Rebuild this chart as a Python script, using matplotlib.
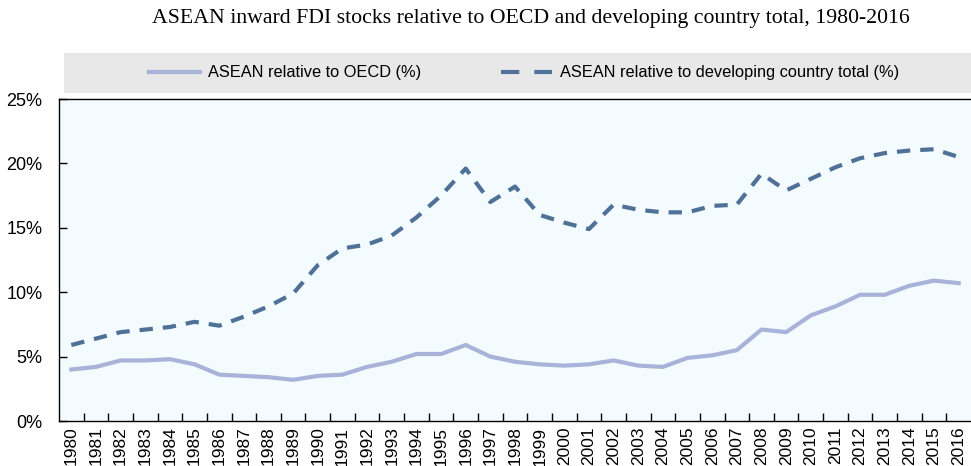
import matplotlib
matplotlib.use("Agg")
import matplotlib.pyplot as plt
from matplotlib.ticker import FixedLocator, PercentFormatter
from matplotlib.lines import Line2D

years = [str(y) for y in range(1980, 2017)]
oecd = [4.0, 4.2, 4.7, 4.7, 4.8, 4.4, 3.6, 3.5, 3.4, 3.2, 3.5, 3.6, 4.2, 4.6, 5.2, 5.2,
        5.9, 5.0, 4.6, 4.4, 4.3, 4.4, 4.7, 4.3, 4.2, 4.9, 5.1, 5.5, 7.1, 6.9, 8.2, 8.9,
        9.8, 9.8, 10.5, 10.9, 10.7]
developing = [5.9, 6.4, 6.9, 7.1, 7.3, 7.7, 7.4, 8.1, 8.9, 9.9, 12.1, 13.4, 13.7, 14.4,
              15.8, 17.5, 19.6, 17.0, 18.2, 16.0, 15.4, 14.9, 16.8, 16.4, 16.2, 16.2,
              16.7, 16.8, 19.2, 17.9, 18.8, 19.7, 20.4, 20.8, 21.0, 21.1, 20.5]
yticks = [0, 5, 10, 15, 20, 25]
title = "ASEAN inward FDI stocks relative to OECD and developing country total, 1980-2016"
label_oecd = "ASEAN relative to OECD (%)"
label_dev = "ASEAN relative to developing country total (%)"

sans = ["Liberation Sans Narrow", "Liberation Sans", "DejaVu Sans"]
plt.rcParams['font.family'] = sans

fig = plt.figure(figsize=(9.71, 4.66), dpi=100)
ax = fig.add_axes([59/971, 1-421/466, 1-59/971, (421-99)/466])
ax.set_facecolor("#f3fbfe")

x = list(range(len(years)))
c_oecd = "#a9b3d9"
c_dev = "#4f7097"
ax.plot(x, oecd, color=c_oecd, lw=3)
ax.plot(x, developing, color=c_dev, lw=3, dashes=(3.2, 2.4))

ax.set_xlim(-0.5, len(years) - 0.5)
ax.set_ylim(0, 25)
ax.set_xticks(x)
ax.set_xticklabels(years, rotation=90, fontsize=12.5)
ax.tick_params(axis='x', which='major', length=0, pad=4)
ax.xaxis.set_minor_locator(FixedLocator([i + 0.5 for i in range(len(years) - 1)]))
ax.tick_params(axis='x', which='minor', direction='in', length=6, width=1)
ax.set_yticks(yticks)
ax.yaxis.set_major_formatter(PercentFormatter(decimals=0))
ax.tick_params(axis='y', direction='in', length=6, width=1, labelsize=13, pad=12)
for s in ['left', 'bottom', 'top']:
    ax.spines[s].set_color('black')
    ax.spines[s].set_linewidth(1)
ax.spines['right'].set_visible(False)

# legend band
fig.patches.append(plt.Rectangle((64/971, 1-93/466), 1-64/971, 40/466,
                                 transform=fig.transFigure, facecolor="#e8e8e8",
                                 edgecolor='none', zorder=0))
handles = [Line2D([], [], color=c_oecd, lw=3),
           Line2D([], [], color=c_dev, lw=3, dashes=(4.4, 3.6))]
fig.legend(handles, [label_oecd, label_dev], loc='center', ncol=2,
           bbox_to_anchor=(524/971, 1-73/466), frameon=False, fontsize=11.8,
           handlelength=3.1, columnspacing=4.9, handletextpad=0.5)

fig.text(531/971, 1-18/466, title, ha='center', va='center', fontsize=15.7,
         family=["Liberation Serif", "DejaVu Serif"])

fig.savefig("out.png", dpi=100)
